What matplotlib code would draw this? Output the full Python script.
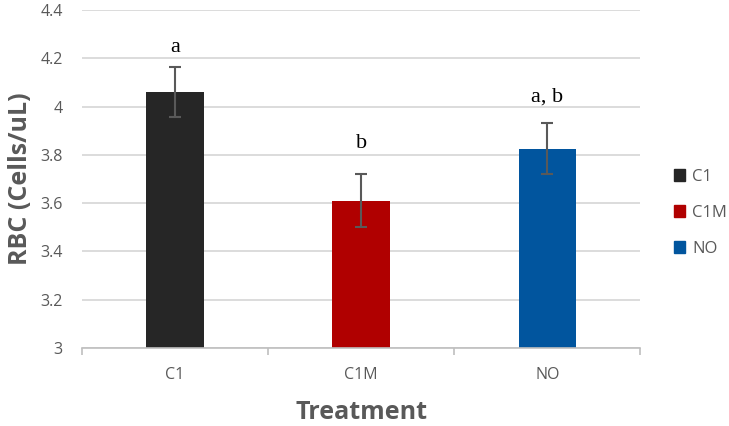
import matplotlib
matplotlib.use('Agg')
import matplotlib.pyplot as plt
from matplotlib.patches import Patch

# data
treatments = ['C1', 'C1M', 'NO']
rbc_mean = [4.06, 3.61, 3.826]
rbc_err = [0.105, 0.11, 0.105]
letters = ['a', 'b', 'a, b']
letter_y = [4.226, 3.83, 4.02]
bar_colors = ['#262626', '#B00000', '#01559E']

plt.rcParams['font.family'] = ['Open Sans', 'DejaVu Sans']

fig = plt.figure(figsize=(7.29, 4.26), dpi=100)
ax = fig.add_axes([0.1125, 0.183, 0.766, 0.7935])

x = range(len(treatments))
ax.bar(x, [m - 3 for m in rbc_mean], bottom=3, width=0.31, color=bar_colors, zorder=3)
ax.errorbar(x, rbc_mean, yerr=rbc_err, fmt='none', ecolor='#595959',
            elinewidth=1.5, capsize=4, capthick=1.5, zorder=4)

for xi, lab, ly in zip(x, letters, letter_y):
    ax.text(xi, ly, lab, ha='center', va='baseline', fontsize=16,
            family='Liberation Serif', color='black')

ax.set_xlim(-0.5, 2.5)
ax.set_ylim(3, 4.4)
ax.set_yticks([3 + 0.2 * i for i in range(8)])
ax.set_yticklabels(['3', '3.2', '3.4', '3.6', '3.8', '4', '4.2', '4.4'])
ax.set_xticks(list(x))
ax.set_xticklabels(treatments)
ax.set_xticks([-0.5, 0.5, 1.5, 2.5], minor=True)
ax.tick_params(axis='x', which='major', length=0, pad=14, labelsize=11.5, labelcolor='#595959')
ax.tick_params(axis='x', which='minor', length=5, width=1.2, color='#BFBFBF')
ax.tick_params(axis='y', length=0, pad=14, labelsize=11.5, labelcolor='#595959')

ax.grid(axis='y', color='#D9D9D9', linewidth=1.3, zorder=0)
for side in ['left', 'right', 'top']:
    ax.spines[side].set_visible(False)
ax.spines['bottom'].set_color('#BFBFBF')
ax.spines['bottom'].set_linewidth(1.2)
ax.spines['bottom'].set_zorder(5)

ax.set_xlabel('Treatment', fontsize=18, fontweight='bold', color='#595959', labelpad=12)
ax.set_ylabel('RBC (Cells/uL)', fontsize=18, fontweight='bold', color='#595959', labelpad=5)

handles = [Patch(color=c, label=t) for c, t in zip(bar_colors, treatments)]
fig.legend(handles=handles, loc='center left', bbox_to_anchor=(0.924, 0.5),
           frameon=False, fontsize=12, handlelength=0.7, handleheight=0.7,
           handletextpad=0.4, labelspacing=1.2, labelcolor='#595959',
           borderpad=0, borderaxespad=0)

fig.savefig('out.png', dpi=100)
